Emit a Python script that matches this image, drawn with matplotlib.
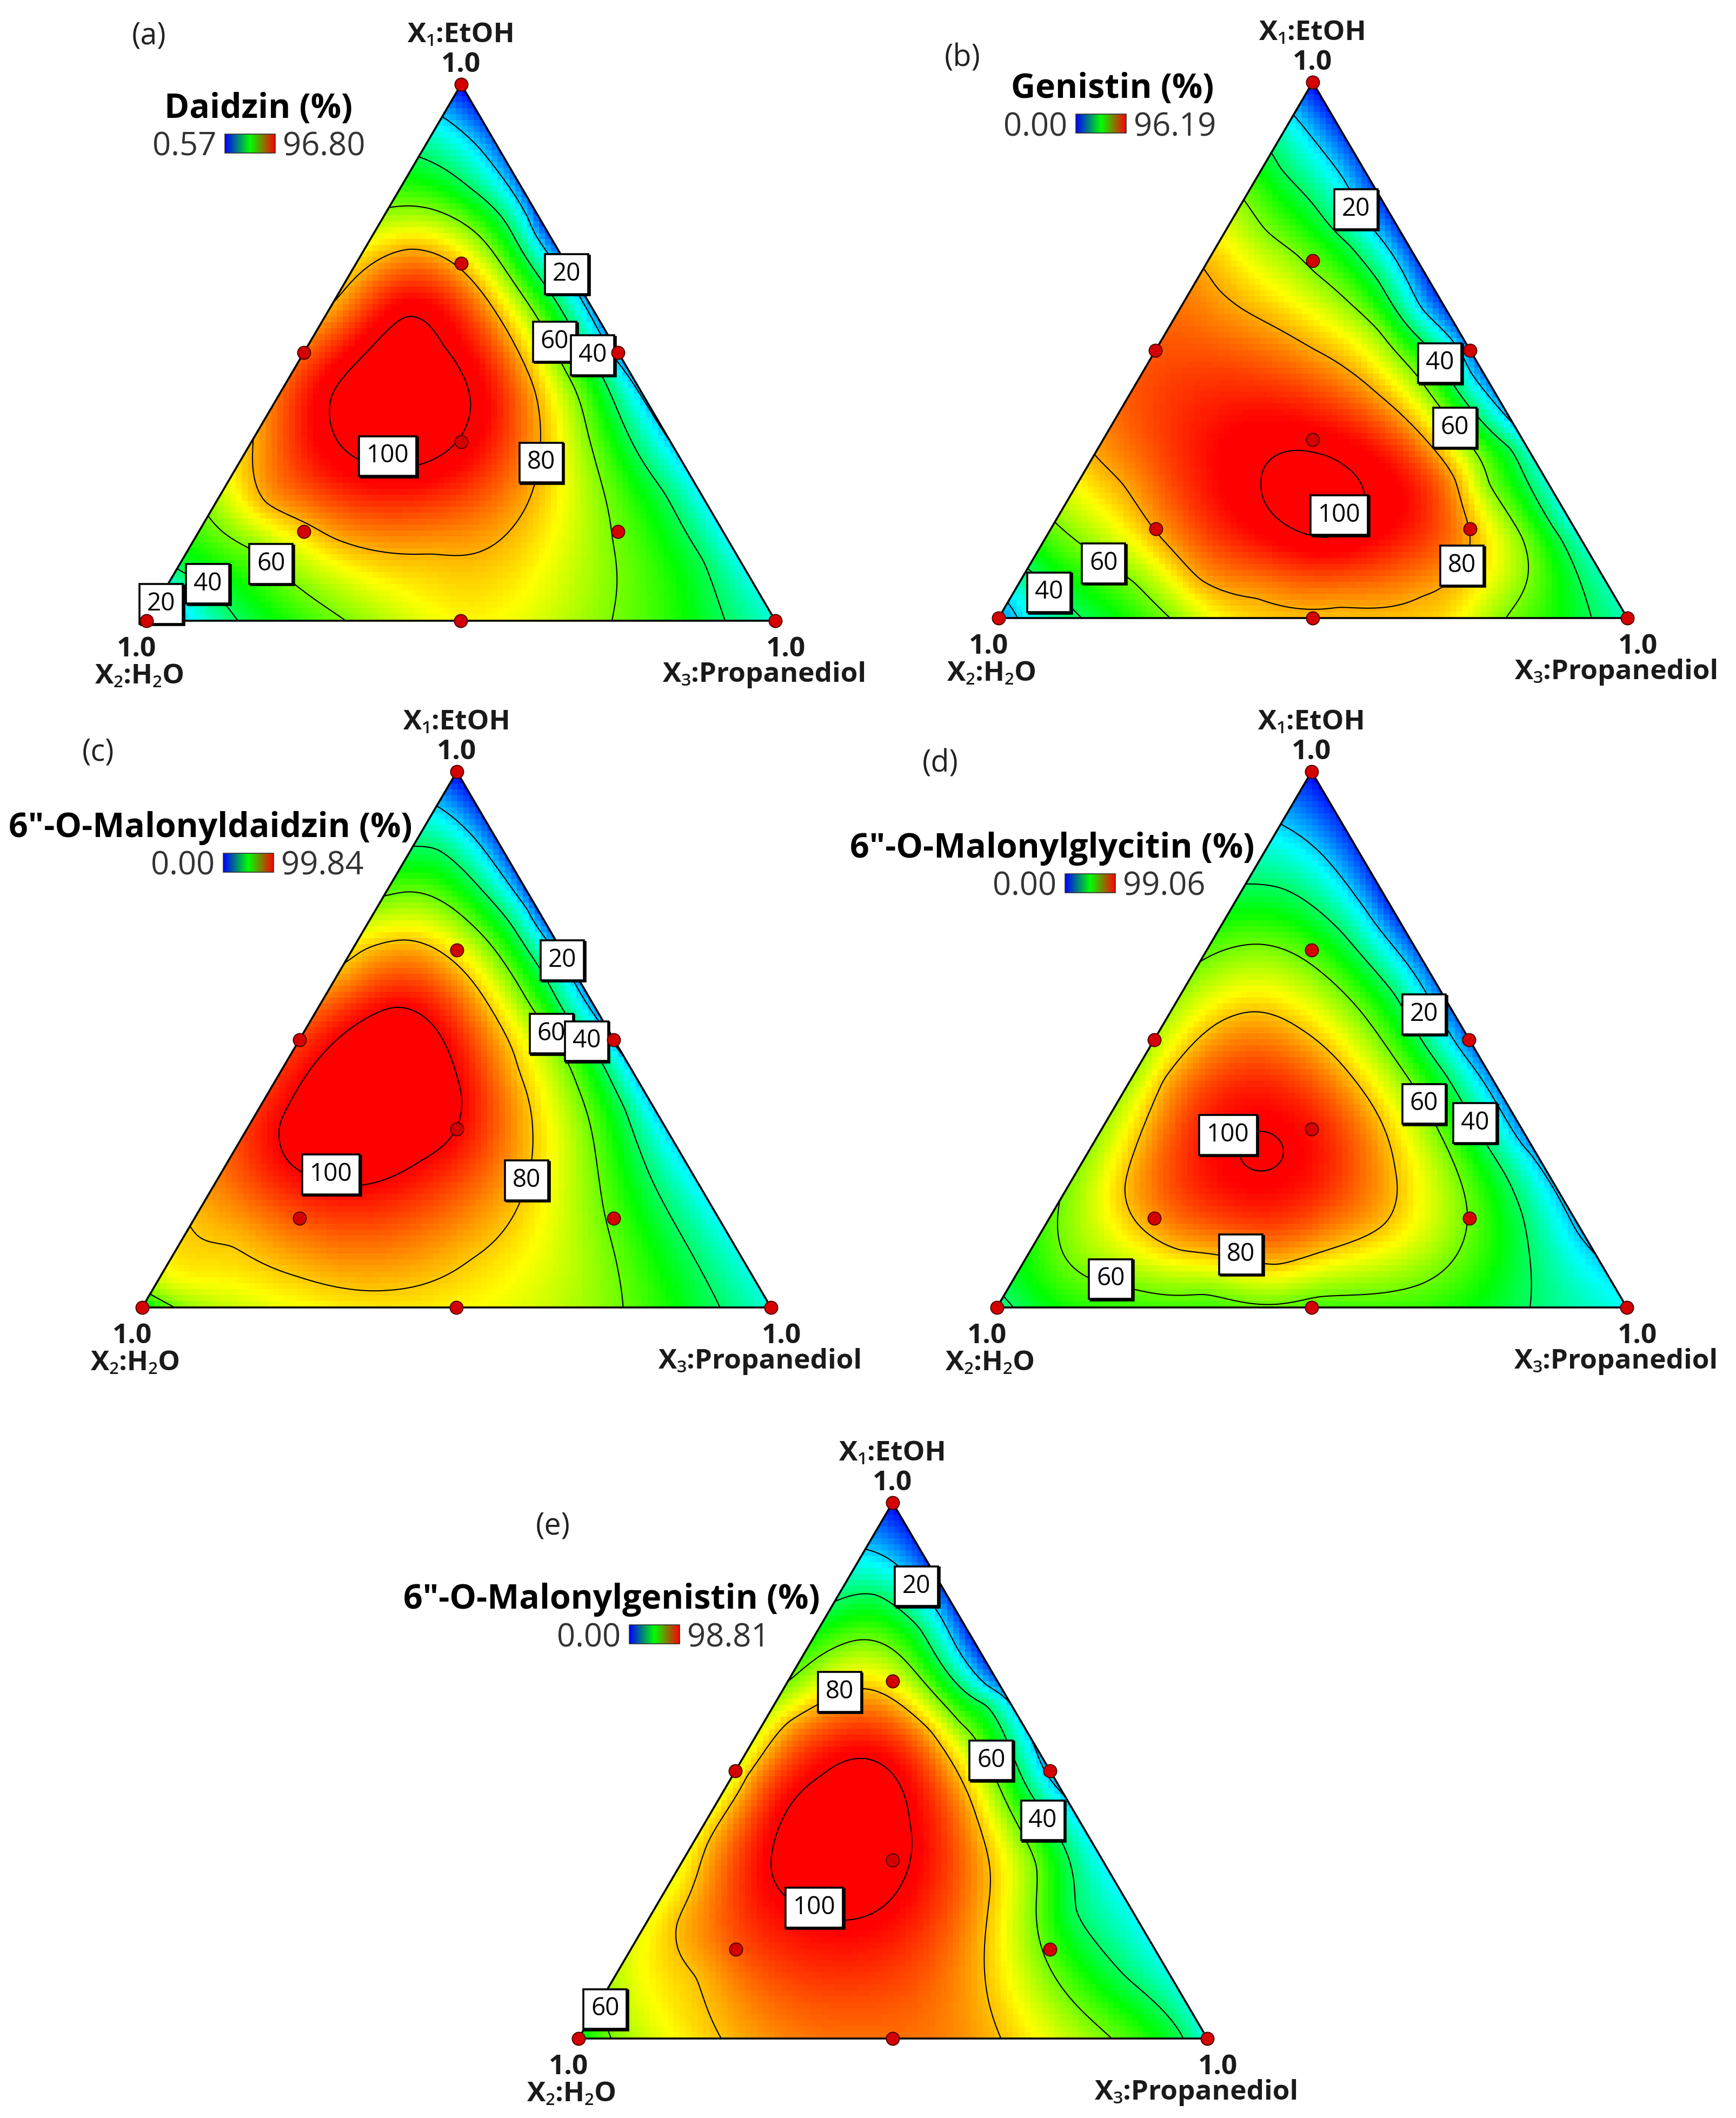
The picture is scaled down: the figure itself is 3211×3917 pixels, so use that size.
import numpy as np
import matplotlib
matplotlib.use("Agg")
import matplotlib.pyplot as plt
from matplotlib.colors import LinearSegmentedColormap, Normalize
from matplotlib.patches import Polygon, Rectangle

plt.rcParams['font.family'] = ['Open Sans', 'Noto Sans', 'DejaVu Sans']

# ---------------- data ----------------
# each point: (x1 = EtOH fraction, x3 = Propanediol fraction, response %)
LEVELS = [20, 40, 60, 80, 100]

design_x1 = [1, 0, 0, 0.5, 0.5, 0, 1/3, 2/3, 1/6, 1/6]
design_x3 = [0, 0, 1, 0, 0.5, 0.5, 1/3, 1/6, 1/6, 2/3]

a_pts = [
    (1.0, 0.0, 0), (0.0, 0.0, 12), (0.0, 1.0, 28),
    (0.94, 0, 20), (0.865, 0, 40), (0.77, 0, 60), (0.59, 0, 80), (0.46, 0, 88), (0.34, 0, 80),
    (0.196, 0, 60), (0.096, 0, 40), (0.05, 0, 20),
    (0, 0.057, 20), (0, 0.145, 40), (0, 0.317, 60), (0, 0.5, 73), (0, 0.74, 60), (0, 0.92, 40),
    (0.75, 0.25, 6), (0.5, 0.5, 14), (0.33, 0.67, 20), (0.15, 0.85, 24),
    (0.88, 0.09, 20), (0.75, 0.233, 20), (0.62, 0.37, 20),
    (0.806, 0.112, 40), (0.754, 0.187, 40), (0.559, 0.39, 40), (0.459, 0.494, 40), (0.351, 0.589, 40),
    (0.238, 0.705, 40), (0.113, 0.829, 40),
    (0.731, 0.15, 60), (0.559, 0.345, 60), (0.465, 0.434, 60), (0.351, 0.526, 60), (0.155, 0.663, 60),
    (0.13, 0.107, 60),
    (0.693, 0.071, 80), (0.6, 0.241, 80), (0.519, 0.324, 80), (0.438, 0.396, 80), (0.351, 0.451, 80),
    (0.18, 0.496, 80), (0.125, 0.391, 80), (0.155, 0.218, 80), (0.221, 0.078, 80),
    (0.422, 0.084, 100), (0.568, 0.13, 100), (0.514, 0.214, 100), (0.405, 0.313, 100),
    (0.288, 0.279, 100), (0.305, 0.178, 100),
    (0.43, 0.19, 106), (0.167, 0.167, 77),
]

b_pts = [
    (1, 0, 0), (0, 0, 14), (0, 1, 30),
    (0.939, 0, 20), (0.869, 0, 40), (0.781, 0, 60), (0.653, 0, 80), (0.5, 0, 88), (0.305, 0, 80),
    (0.179, 0, 60), (0.092, 0, 40), (0.03, 0, 20),
    (0, 0.03, 20), (0, 0.132, 40), (0, 0.273, 60), (0, 0.4, 76), (0, 0.53, 78), (0, 0.7, 76),
    (0, 0.806, 60), (0, 0.943, 40),
    (0.75, 0.25, 5), (0.5, 0.5, 12), (0.36, 0.64, 20), (0.18, 0.82, 26),
    (0.799, 0.16, 20), (0.763, 0.187, 20), (0.576, 0.386, 20), (0.46, 0.52, 20),
    (0.84, 0.028, 40), (0.772, 0.115, 40), (0.695, 0.212, 40), (0.629, 0.29, 40),
    (0.484, 0.459, 40), (0.317, 0.656, 40), (0.15, 0.819, 40),
    (0.723, 0.064, 60), (0.678, 0.136, 60), (0.646, 0.179, 60), (0.587, 0.266, 60), (0.538, 0.335, 60),
    (0.384, 0.517, 60), (0.25, 0.655, 60), (0.15, 0.758, 60),
    (0.075, 0.804, 60), (0.125, 0.083, 60), (0.067, 0.182, 60),
    (0.615, 0.041, 80), (0.578, 0.097, 80), (0.538, 0.179, 80), (0.502, 0.25, 80), (0.461, 0.328, 80),
    (0.417, 0.396, 80), (0.351, 0.49, 80), (0.259, 0.597, 80),
    (0.167, 0.665, 80), (0.1, 0.69, 80), (0.042, 0.653, 80), (0.021, 0.531, 80), (0.038, 0.391, 80),
    (0.071, 0.286, 80), (0.159, 0.172, 80), (0.25, 0.073, 80),
    (0.25, 0.293, 100), (0.313, 0.324, 100), (0.284, 0.409, 100), (0.225, 0.469, 100), (0.15, 0.449, 100),
    (0.234, 0.381, 104), (0.333, 0.333, 98),
]

c_pts = [
    (1, 0, 0), (0, 0, 40), (0, 1, 28),
    (0.936, 0, 20), (0.86, 0, 40), (0.767, 0, 60), (0.641, 0, 80), (0.4, 0, 95), (0.153, 0, 80),
    (0.023, 0, 60),
    (0, 0.051, 60), (0, 0.2, 72), (0, 0.37, 77), (0, 0.55, 74), (0, 0.765, 60), (0, 0.919, 40),
    (0.75, 0.25, 6), (0.5, 0.5, 17), (0.39, 0.61, 20), (0.2, 0.8, 24),
    (0.902, 0.055, 20), (0.84, 0.132, 20), (0.745, 0.241, 20), (0.65, 0.34, 20),
    (0.856, 0.04, 40), (0.812, 0.108, 40), (0.732, 0.209, 40), (0.624, 0.325, 40), (0.542, 0.405, 40),
    (0.5, 0.456, 40), (0.461, 0.499, 40), (0.371, 0.582, 40), (0.25, 0.681, 40),
    (0.776, 0.033, 60), (0.759, 0.095, 60), (0.717, 0.163, 60), (0.655, 0.241, 60), (0.569, 0.33, 60),
    (0.511, 0.395, 60), (0.416, 0.483, 60), (0.281, 0.581, 60), (0.182, 0.643, 60), (0.099, 0.702, 60),
    (0.668, 0.019, 80), (0.686, 0.075, 80), (0.668, 0.134, 80), (0.633, 0.19, 80), (0.56, 0.273, 80),
    (0.443, 0.377, 80), (0.326, 0.458, 80), (0.199, 0.502, 80), (0.09, 0.478, 80), (0.032, 0.374, 80),
    (0.057, 0.221, 80), (0.115, 0.086, 80),
    (0.52, 0.07, 100), (0.56, 0.119, 100), (0.529, 0.196, 100), (0.439, 0.279, 100), (0.394, 0.311, 100),
    (0.335, 0.333, 100), (0.274, 0.306, 100), (0.228, 0.232, 100), (0.274, 0.094, 100),
    (0.341, 0.048, 100),
    (0.392, 0.167, 108),
]

d_pts = [
    (1, 0, 0), (0, 0, 35), (0, 1, 25),
    (0.902, 0, 20), (0.79, 0, 40), (0.645, 0, 60), (0.45, 0, 65), (0.3, 0, 64), (0.2, 0, 60),
    (0.09, 0, 50), (0.02, 0, 40),
    (0, 0.1, 50), (0, 0.3, 55.5), (0, 0.5, 56), (0, 0.65, 54.5), (0, 0.846, 40),
    (0.75, 0.25, 4), (0.5, 0.5, 10), (0.3, 0.7, 14), (0.15, 0.85, 18),
    (0.849, 0.089, 20), (0.741, 0.216, 20), (0.587, 0.388, 20), (0.426, 0.557, 20), (0.291, 0.701, 20),
    (0.17, 0.823, 20),
    (0.781, 0.065, 40), (0.7, 0.198, 40), (0.583, 0.341, 40), (0.435, 0.495, 40), (0.245, 0.686, 40),
    (0.17, 0.75, 40), (0.099, 0.796, 40),
    (0.678, 0.078, 60), (0.631, 0.194, 60), (0.534, 0.323, 60), (0.417, 0.451, 60), (0.291, 0.572, 60),
    (0.17, 0.662, 60), (0.04, 0.645, 60), (0.02, 0.5, 60), (0.025, 0.318, 60), (0.035, 0.197, 60),
    (0.099, 0.056, 60),
    (0.552, 0.134, 80), (0.52, 0.222, 80), (0.426, 0.354, 80), (0.349, 0.435, 80), (0.263, 0.5, 80),
    (0.157, 0.538, 80), (0.08, 0.405, 80), (0.107, 0.237, 80), (0.224, 0.091, 80), (0.425, 0.052, 80),
    (0.529, 0.084, 80),
    (0.295, 0.268, 100.3), (0.333, 0.333, 97),
]

e_pts = [
    (1, 0, 0), (0, 0, 45), (0, 1, 25),
    (0.913, 0, 20), (0.815, 0, 40), (0.665, 0, 60), (0.5, 0, 70), (0.3, 0, 72), (0.15, 0, 70),
    (0.065, 0, 60),
    (0, 0.051, 60), (0, 0.227, 80), (0, 0.45, 88), (0, 0.672, 80), (0, 0.848, 60), (0, 0.963, 40),
    (0.75, 0.25, 4), (0.5, 0.5, 16), (0.45, 0.55, 20), (0.25, 0.75, 25),
    (0.882, 0.068, 20), (0.844, 0.116, 20), (0.657, 0.322, 20),
    (0.828, 0.06, 40), (0.765, 0.161, 40), (0.623, 0.338, 40), (0.423, 0.527, 40), (0.24, 0.671, 40),
    (0.115, 0.813, 40),
    (0.715, 0.028, 60), (0.744, 0.075, 60), (0.707, 0.165, 60), (0.59, 0.311, 60), (0.498, 0.41, 60),
    (0.323, 0.567, 60), (0.163, 0.657, 60),
    (0.59, 0.038, 80), (0.653, 0.125, 80), (0.573, 0.275, 80), (0.448, 0.399, 80), (0.282, 0.514, 80),
    (0.115, 0.589, 80), (0.49, 0.022, 80), (0.365, 0.023, 80), (0.215, 0.049, 80), (0.115, 0.13, 80),
    (0.315, 0.149, 100), (0.49, 0.141, 100), (0.522, 0.178, 100), (0.407, 0.323, 100),
    (0.298, 0.369, 100), (0.223, 0.327, 100), (0.248, 0.226, 100),
    (0.373, 0.234, 107), (0.167, 0.167, 90),
]

# contour label boxes: (x1, x3, text)
a_labels = [(0.646, 0.345, '20'), (0.52, 0.389, '60'), (0.495, 0.462, '40'), (0.307, 0.23, '100'),
            (0.295, 0.48, '80'), (0.106, 0.145, '60'), (0.069, 0.063, '40'), (0.031, 0.008, '20')]
b_labels = [(0.763, 0.187, '20'), (0.476, 0.464, '40'), (0.355, 0.548, '60'), (0.192, 0.446, '100'),
            (0.098, 0.688, '80'), (0.102, 0.116, '60'), (0.048, 0.056, '40')]
c_labels = [(0.648, 0.344, '20'), (0.511, 0.395, '60'), (0.497, 0.458, '40'), (0.248, 0.176, '100'),
            (0.237, 0.493, '80')]
d_labels = [(0.547, 0.405, '20'), (0.38, 0.488, '60'), (0.344, 0.587, '40'), (0.322, 0.206, '100'),
            (0.099, 0.338, '80'), (0.053, 0.154, '60')]
e_labels = [(0.844, 0.116, '20'), (0.647, 0.092, '80'), (0.519, 0.397, '60'), (0.407, 0.535, '40'),
            (0.244, 0.253, '100'), (0.055, 0.015, '60')]

titles = ['Daidzin (%)', 'Genistin (%)', '6"-O-Malonyldaidzin (%)',
          '6"-O-Malonylglycitin (%)', '6"-O-Malonylgenistin (%)']
letters = ['(a)', '(b)', '(c)', '(d)', '(e)']
range_lo = [0.57, 0.00, 0.00, 0.00, 0.00]
range_hi = [96.80, 96.19, 99.84, 99.06, 98.81]

# ---------------- layout (pixels) ----------------
layout = [
    dict(T=(853, 156), L=(271, 1148), R=(1434, 1148), letter=(276, 67), title_x=478, bar=(416, 248)),
    dict(T=(2428, 152), L=(1847, 1143), R=(3010, 1143), letter=(1780, 108), title_x=2058, bar=(1990, 211)),
    dict(T=(845, 1427), L=(263, 2418), R=(1426, 2418), letter=(182, 1392), title_x=389, bar=(413, 1578)),
    dict(T=(2426, 1427), L=(1844, 2418), R=(3009, 2418), letter=(1739, 1413), title_x=1946, bar=(1970, 1616)),
    dict(T=(1651, 2779), L=(1070, 3770), R=(2233, 3770), letter=(1023, 2823), title_x=1131, bar=(1164, 3005)),
]
panel_pts = [a_pts, b_pts, c_pts, d_pts, e_pts]
panel_labels = [a_labels, b_labels, c_labels, d_labels, e_labels]

FIG_W, FIG_H = 3212, 3917
fig = plt.figure(figsize=(FIG_W / 100, FIG_H / 100), dpi=100)
ax = fig.add_axes([0, 0, 1, 1])
ax.axis('off')

surf_cmap = LinearSegmentedColormap.from_list(
    'de', ['#0000ff', '#00ffff', '#00ff00', '#ffff00', '#ff0000'])
bar_cmap = LinearSegmentedColormap.from_list('bar', ['#0000ff', '#00ff00', '#ff0000'])

SQ3 = np.sqrt(3) / 2


def to_uv(x1, x3):
    x1 = np.asarray(x1, float)
    x3 = np.asarray(x3, float)
    return x3 + 0.5 * x1, x1 * SQ3


def tps_kernel(d):
    out = np.zeros_like(d)
    m = d > 0
    out[m] = d[m] ** 2 * np.log(d[m])
    return out


def tps_fit(pts, lam=3e-4):
    arr = np.array(pts, float)
    u, v = to_uv(arr[:, 0], arr[:, 1])
    z = arr[:, 2]
    n = len(z)
    K = tps_kernel(np.hypot(u[:, None] - u[None, :], v[:, None] - v[None, :]))
    P = np.column_stack([np.ones(n), u, v])
    A = np.zeros((n + 3, n + 3))
    A[:n, :n] = K + lam * np.eye(n)
    A[:n, n:] = P
    A[n:, :n] = P.T
    sol = np.linalg.solve(A, np.concatenate([z, np.zeros(3)]))
    return u, v, sol[:n], sol[n:]


def tps_eval(model, x1, x3):
    u, v, w, a = model
    gu, gv = to_uv(x1, x3)
    d = np.hypot(gu[..., None] - u, gv[..., None] - v)
    return tps_kernel(d) @ w + a[0] + a[1] * gu + a[2] * gv


BOLD = dict(fontweight='bold', color='#1a1a1a')

for i, lay in enumerate(layout):
    T = np.array(lay['T'], float)
    L = np.array(lay['L'], float)
    R = np.array(lay['R'], float)
    M = np.column_stack([T - L, R - L])
    Minv = np.linalg.inv(M)

    def b2p(x1, x3):
        x1 = np.asarray(x1, float)
        x3 = np.asarray(x3, float)
        return L[0] + M[0, 0] * x1 + M[0, 1] * x3, L[1] + M[1, 0] * x1 + M[1, 1] * x3

    def p2b(px, py):
        dx = px - L[0]
        dy = py - L[1]
        return Minv[0, 0] * dx + Minv[0, 1] * dy, Minv[1, 0] * dx + Minv[1, 1] * dy

    model = tps_fit(panel_pts[i])
    clip = Polygon([T, L, R], closed=True, transform=ax.transData)
    norm = Normalize(range_lo[i], range_hi[i])

    # coloured blocks
    step = 11
    xe = np.arange(L[0] - step, R[0] + 2 * step, step)
    ye = np.arange(T[1] - step, L[1] + 2 * step, step)
    xc = 0.5 * (xe[1:] + xe[:-1])
    yc = 0.5 * (ye[1:] + ye[:-1])
    GX, GY = np.meshgrid(xc, yc)
    g1, g3 = p2b(GX, GY)
    Z = tps_eval(model, g1, g3)
    mesh = ax.pcolormesh(xe, ye, Z, cmap=surf_cmap, norm=norm, shading='flat',
                         zorder=1, antialiased=False, linewidth=0)
    mesh.set_clip_path(clip)

    # contour lines
    fs = 4
    xf = np.arange(L[0] - 8, R[0] + 8, fs)
    yf = np.arange(T[1] - 8, L[1] + 8, fs)
    FX, FY = np.meshgrid(xf, yf)
    f1, f3 = p2b(FX, FY)
    FZ = tps_eval(model, f1, f3)
    cs = ax.contour(FX, FY, FZ, levels=LEVELS, colors='black', linewidths=1.5, zorder=2)
    cs.set_clip_path(clip)

    # triangle outline
    ax.add_patch(Polygon([T, L, R], closed=True, fill=False, ec='black', lw=2.6,
                         zorder=3, joinstyle='miter'))

    # contour labels (box with a slight shadow on the lower-right)
    for (lx1, lx3, txt) in panel_labels[i]:
        px, py = b2p(lx1, lx3)
        ax.text(px + 2.5, py + 2.5, txt, fontsize=33, ha='center', va='center', zorder=3.9,
                color=(0, 0, 0, 0),
                bbox=dict(boxstyle='square,pad=0.3', fc='black', ec='black', lw=2.6))
        ax.text(px, py, txt, fontsize=33, ha='center', va='center', zorder=4, color='black',
                bbox=dict(boxstyle='square,pad=0.3', fc='white', ec='black', lw=2.6))

    # design points
    dx_, dy_ = b2p(design_x1, design_x3)
    ax.scatter(dx_, dy_, s=300, c='#d40000', edgecolors='#4d0000', linewidths=1.4,
               zorder=5, clip_on=False)

    # vertex labels
    ax.text(T[0], T[1] - 23, '1.0', fontsize=37, ha='center', va='baseline', **BOLD)
    ax.text(T[0], T[1] - 78, 'X\u2081:EtOH', fontsize=37, ha='center', va='baseline', **BOLD)
    ax.text(L[0] - 18, L[1] + 66, '1.0', fontsize=37, ha='center', va='baseline', **BOLD)
    ax.text(L[0] - 12, L[1] + 116, 'X\u2082:H\u2082O', fontsize=37, ha='center', va='baseline', **BOLD)
    ax.text(R[0] + 20, R[1] + 66, '1.0', fontsize=37, ha='center', va='baseline', **BOLD)
    ax.text(R[0] - 20, R[1] + 113, 'X\u2083:Propanediol', fontsize=37, ha='center', va='baseline', **BOLD)

    # letter, title, legend
    ax.text(lay['letter'][0], lay['letter'][1], letters[i], fontsize=40, ha='center', va='center',
            color='#222222')
    bx, by = lay['bar']
    bw, bh = 93, 35
    ax.text(lay['title_x'], by - 30, titles[i], fontsize=45, fontweight='bold', ha='center',
            va='baseline', color='black')
    ax.imshow(np.linspace(0, 1, 256)[None, :], cmap=bar_cmap, extent=(bx, bx + bw, by + bh, by),
              aspect='auto', zorder=3, interpolation='bilinear')
    ax.add_patch(Rectangle((bx, by), bw, bh, fill=False, ec='#333333', lw=1.2, zorder=4))
    ax.text(bx - 16, by + bh + 5, f'{range_lo[i]:.2f}', fontsize=43, ha='right', va='baseline',
            color='#333333')
    ax.text(bx + bw + 14, by + bh + 5, f'{range_hi[i]:.2f}', fontsize=43, ha='left', va='baseline',
            color='#333333')

ax.set_xlim(0, FIG_W)
ax.set_ylim(FIG_H, 0)
fig.savefig('out.png', dpi=100, facecolor='white')
